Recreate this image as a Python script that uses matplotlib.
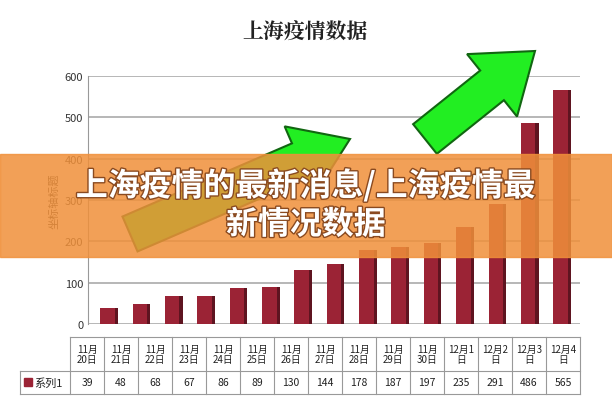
import matplotlib.pyplot as plt
import matplotlib.patheffects as pe
from matplotlib.patches import FancyArrow, Rectangle

plt.rcParams['font.family'] = ['Noto Sans CJK SC', 'DejaVu Sans']

dates = ['11月\n20日', '11月\n21日', '11月\n22日', '11月\n23日', '11月\n24日', '11月\n25日',
         '11月\n26日', '11月\n27日', '11月\n28日', '11月\n29日', '11月\n30日',
         '12月1\n日', '12月2\n日', '12月3\n日', '12月4\n日']
values = [39, 48, 68, 67, 86, 89, 130, 144, 178, 187, 197, 235, 291, 486, 565]
series_name = '系列1'
yticks = [0, 100, 200, 300, 400, 500, 600]

W, H = 612, 414
fig = plt.figure(figsize=(W / 100, H / 100), dpi=100)
fig.patch.set_facecolor('white')

ax = fig.add_axes([88 / W, (H - 325) / H, (580 - 88) / W, (325 - 77) / H])
n = len(values)
x = list(range(n))
ax.bar(x, values, width=0.45, color='#9b2335', zorder=3)
ax.bar([i + 0.27 for i in x], values, width=0.1, color='#5e1420', zorder=2)
ax.set_xlim(-0.6, n - 0.4)
ax.set_ylim(0, 600)
ax.set_yticks(yticks)
ax.tick_params(axis='y', labelsize=8, colors='#333333', length=0)
ax.set_xticks([])
ax.grid(axis='y', color='#aaaaaa', lw=1.2)
for s in ['top', 'right', 'bottom']:
    ax.spines[s].set_visible(False)
ax.spines['left'].set_color('#999999')
ax.set_ylabel('坐标轴标题', fontsize=8, color='#333333')

ov = fig.add_axes([0, 0, 1, 1])
ov.set_xlim(0, W)
ov.set_ylim(H, 0)
ov.axis('off')
ov.patch.set_alpha(0)

ov.text(305, 32, '上海疫情数据', ha='center', va='center', fontsize=15, fontweight='bold',
        family=['Noto Serif CJK SC', 'Noto Sans CJK SC'], color='#222222')

# arrows
ov.add_patch(FancyArrow(130, 235, 220, -95, width=38, head_width=75, head_length=55,
                        length_includes_head=True, fc='#22ee22', ec='#116611', lw=1.5))
ov.add_patch(FancyArrow(425, 140, 110, -88, width=38, head_width=80, head_length=55,
                        length_includes_head=True, fc='#22ee22', ec='#116611', lw=1.5))

# table
left, lab_w, right = 20, 50, 580
cw = (right - left - lab_w) / n
top, mid, bot = 338, 372, 395
c = '#999999'
ov.plot([left + lab_w, right], [top, top], color=c, lw=0.8)
ov.plot([left, right], [mid, mid], color=c, lw=0.8)
ov.plot([left, right], [bot, bot], color=c, lw=0.8)
ov.plot([left, left], [mid, bot], color=c, lw=0.8)
for i in range(n + 1):
    xx = left + lab_w + i * cw
    ov.plot([xx, xx], [top, bot], color=c, lw=0.8)
for i in range(n):
    xc = left + lab_w + (i + 0.5) * cw
    ov.text(xc, (top + mid) / 2, dates[i], ha='center', va='center', fontsize=7, linespacing=1.1, color='#222222')
    ov.text(xc, (mid + bot) / 2, str(values[i]), ha='center', va='center', fontsize=7.5, color='#222222')
ov.add_patch(Rectangle((left + 4, 379), 8, 8, color='#9b2335'))
ov.text(left + 14, (mid + bot) / 2, series_name, ha='left', va='center', fontsize=8, color='#222222')

# banner
ov.add_patch(Rectangle((0, 155), W, 103, color='#f0903a', alpha=0.85, zorder=5))
shadow = [pe.withStroke(linewidth=2, foreground='#8a4a20')]
ov.text(W / 2, 187, '上海疫情的最新消息/上海疫情最', ha='center', va='center', fontsize=23,
        fontweight='bold', color='white', zorder=6, path_effects=shadow)
ov.text(W / 2, 226, '新情况数据', ha='center', va='center', fontsize=23,
        fontweight='bold', color='white', zorder=6, path_effects=shadow)

fig.savefig('out.png', dpi=100)
